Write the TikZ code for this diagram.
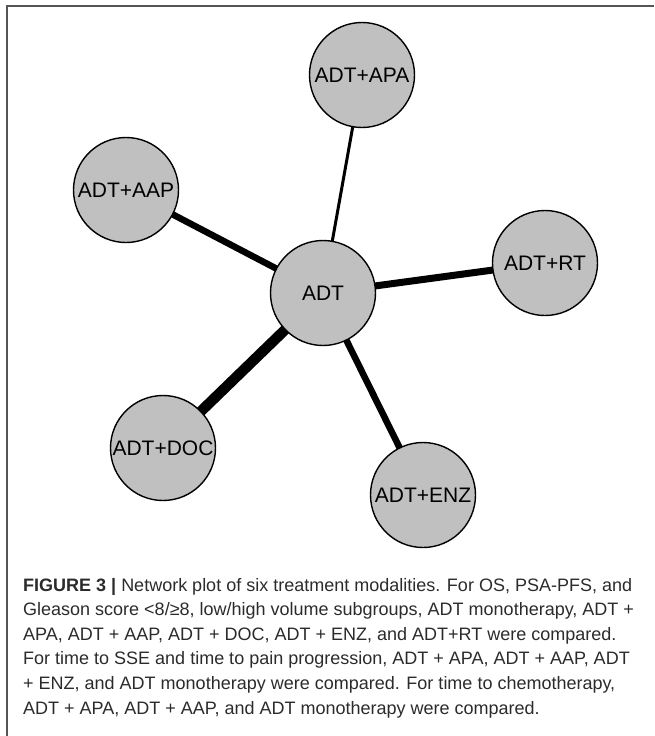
\documentclass[tikz,border=0pt]{standalone}
\usepackage{fontspec}
\setmainfont{Liberation Sans}
\usetikzlibrary{backgrounds}
\definecolor{captxt}{HTML}{2B2B2B}
\definecolor{nodefill}{HTML}{C0C0C0}
\definecolor{framecol}{HTML}{555555}
\begin{document}
\begin{tikzpicture}[x=1pt,y=-1pt,
  trt/.style={circle, draw=black, line width=1.4pt, fill=nodefill, minimum size=105pt, inner sep=0pt, font=\fontsize{21}{21}\selectfont, text=black},
  link/.style={draw=black, line cap=butt},
  captionline/.style={anchor=base west, inner sep=0pt, font=\fontsize{18}{18}\selectfont, text=captxt},
  framestyle/.style={draw=framecol, line width=1.8pt}]
\useasboundingbox (0,0) rectangle (654,736);
\draw[framestyle] (7,736) -- (7,6) -- (654,6);

\node[trt] (adt) at (323,293) {ADT};
\node[trt] (apa) at (362,75) {ADT+APA};
\node[trt] (aap) at (126,190) {ADT+AAP};
\node[trt] (rt)  at (545,263) {ADT+RT};
\node[trt] (doc) at (163,448) {ADT+DOC};
\node[trt] (enz) at (423,495) {ADT+ENZ};

\begin{scope}[on background layer]
\draw[link, line width=3pt] (adt.center) -- (apa.center);
\draw[link, line width=6.5pt] (adt.center) -- (aap.center);
\draw[link, line width=7pt] (adt.center) -- (rt.center);
\draw[link, line width=10.5pt] (adt.center) -- (doc.center);
\draw[link, line width=6.5pt] (adt.center) -- (enz.center);
\end{scope}

\node[captionline] (c1) at (23,591) {\textbf{FIGURE 3 |} Network plot of six treatment modalities. For OS, PSA-PFS, and};
\node[captionline] (c2) at (23,615.6) {Gleason score <8/≥8, low/high volume subgroups, ADT monotherapy, ADT +};
\node[captionline] (c3) at (23,640.2) {APA, ADT + AAP, ADT + DOC, ADT + ENZ, and ADT+RT were compared.};
\node[captionline] (c4) at (23,664.8) {For time to SSE and time to pain progression, ADT + APA, ADT + AAP, ADT};
\node[captionline] (c5) at (23,689.4) {+ ENZ, and ADT monotherapy were compared. For time to chemotherapy,};
\node[captionline] (c6) at (23,714) {ADT + APA, ADT + AAP, and ADT monotherapy were compared.};
\end{tikzpicture}
\end{document}
